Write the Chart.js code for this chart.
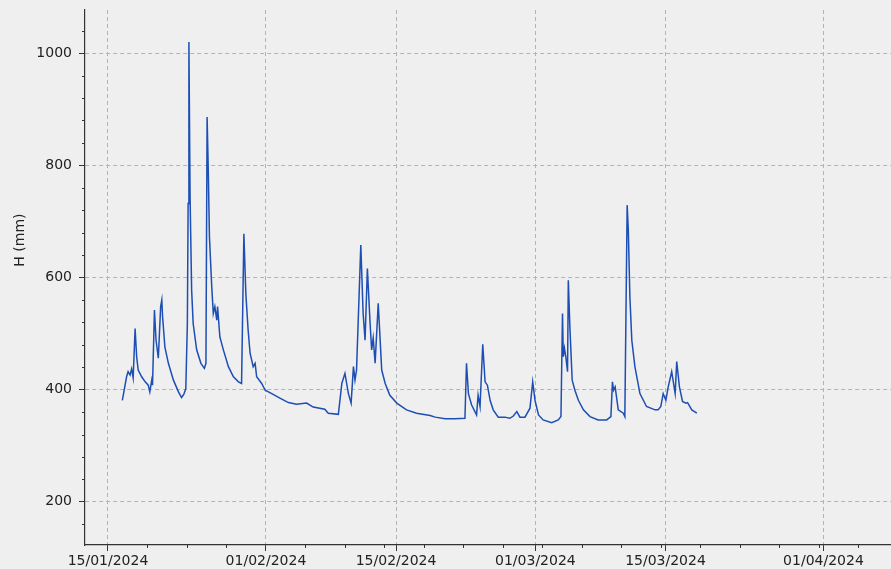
<!DOCTYPE html>
<html>
<head>
<meta charset="utf-8">
<script src="https://cdn.jsdelivr.net/npm/chart.js@4/dist/chart.umd.min.js"></script>
<style>
  html, body { margin: 0; padding: 0; background: #efefef; }
</style>
</head>
<body>
<canvas id="hauteurChart" width="891" height="569"></canvas>
<script>
// horodatage des mesures (UTC) et hauteur d'eau en mm
const times = [
  "2024-01-16T13:00", "2024-01-16T17:00", "2024-01-17T00:00", "2024-01-17T04:00", "2024-01-17T09:00",
  "2024-01-17T13:00", "2024-01-17T17:00", "2024-01-17T22:00", "2024-01-18T02:00", "2024-01-18T06:00",
  "2024-01-18T15:00", "2024-01-19T00:00", "2024-01-19T08:00", "2024-01-19T12:00", "2024-01-19T17:00",
  "2024-01-19T19:00", "2024-01-20T00:00", "2024-01-20T04:00", "2024-01-20T10:00", "2024-01-20T16:00",
  "2024-01-20T19:00", "2024-01-20T21:00", "2024-01-21T03:00", "2024-01-21T12:00", "2024-01-22T01:00",
  "2024-01-22T14:00", "2024-01-22T22:00", "2024-01-23T04:00", "2024-01-23T09:00", "2024-01-23T13:00",
  "2024-01-23T15:00", "2024-01-23T17:00", "2024-01-23T20:00", "2024-01-24T00:00", "2024-01-24T04:00",
  "2024-01-24T13:00", "2024-01-25T00:00", "2024-01-25T09:00", "2024-01-25T13:00", "2024-01-25T16:00",
  "2024-01-25T19:00", "2024-01-25T22:00", "2024-01-26T04:00", "2024-01-26T08:00", "2024-01-26T12:00",
  "2024-01-26T17:00", "2024-01-26T19:00", "2024-01-27T01:00", "2024-01-27T10:00", "2024-01-27T23:00",
  "2024-01-28T12:00", "2024-01-29T01:00", "2024-01-29T09:00", "2024-01-29T15:00", "2024-01-29T20:00",
  "2024-01-30T02:00", "2024-01-30T07:00", "2024-01-30T15:00", "2024-01-30T20:00", "2024-01-31T00:00",
  "2024-01-31T13:00", "2024-01-31T22:00", "2024-02-01T15:00", "2024-02-02T12:00", "2024-02-03T10:00",
  "2024-02-04T07:00", "2024-02-05T09:00", "2024-02-06T02:00", "2024-02-07T08:00", "2024-02-07T17:00",
  "2024-02-08T19:00", "2024-02-09T04:00", "2024-02-09T12:00", "2024-02-09T21:00", "2024-02-10T04:00",
  "2024-02-10T10:00", "2024-02-10T14:00", "2024-02-10T18:00", "2024-02-11T05:00", "2024-02-11T11:00",
  "2024-02-11T16:00", "2024-02-11T22:00", "2024-02-12T05:00", "2024-02-12T09:00", "2024-02-12T13:00",
  "2024-02-12T18:00", "2024-02-13T02:00", "2024-02-13T11:00", "2024-02-13T20:00", "2024-02-14T08:00",
  "2024-02-15T02:00", "2024-02-16T03:00", "2024-02-17T05:00", "2024-02-18T16:00", "2024-02-19T05:00",
  "2024-02-20T07:00", "2024-02-21T08:00", "2024-02-22T10:00", "2024-02-22T14:00", "2024-02-22T19:00",
  "2024-02-23T03:00", "2024-02-23T16:00", "2024-02-23T20:00", "2024-02-24T01:00", "2024-02-24T08:00",
  "2024-02-24T14:00", "2024-02-24T20:00", "2024-02-25T03:00", "2024-02-25T11:00", "2024-02-26T00:00",
  "2024-02-26T17:00", "2024-02-27T06:00", "2024-02-27T15:00", "2024-02-28T00:00", "2024-02-28T08:00",
  "2024-02-28T21:00", "2024-02-29T10:00", "2024-02-29T17:00", "2024-02-29T23:00", "2024-03-01T08:00",
  "2024-03-01T20:00", "2024-03-02T18:00", "2024-03-03T11:00", "2024-03-03T18:00", "2024-03-03T22:00",
  "2024-03-04T00:00", "2024-03-04T03:00", "2024-03-04T07:00", "2024-03-04T11:00", "2024-03-04T13:00",
  "2024-03-04T17:00", "2024-03-04T23:00", "2024-03-05T06:00", "2024-03-05T15:00", "2024-03-06T04:00",
  "2024-03-06T21:00", "2024-03-07T18:00", "2024-03-08T16:00", "2024-03-09T03:00", "2024-03-09T07:00",
  "2024-03-09T10:00", "2024-03-09T14:00", "2024-03-09T22:00", "2024-03-10T11:00", "2024-03-10T15:00",
  "2024-03-10T21:00", "2024-03-11T00:00", "2024-03-11T04:00", "2024-03-11T09:00", "2024-03-11T17:00",
  "2024-03-12T06:00", "2024-03-12T23:00", "2024-03-13T21:00", "2024-03-14T05:00", "2024-03-14T12:00",
  "2024-03-14T18:00", "2024-03-15T01:00", "2024-03-15T07:00", "2024-03-15T16:00", "2024-03-16T01:00",
  "2024-03-16T05:00", "2024-03-16T12:00", "2024-03-16T20:00", "2024-03-17T05:00", "2024-03-17T09:00",
  "2024-03-17T20:00", "2024-03-18T09:00"
];

const levels = [
  381, 396, 423, 432, 426,
  437, 421, 509, 459, 435,
  423, 414, 408, 396, 417,
  408, 542, 489, 456, 548,
  560, 530, 476, 447, 417,
  396, 386, 392, 402, 518,
  732, 1020, 744, 578, 518,
  471, 447, 438, 447, 886,
  791, 673, 583, 536, 548,
  524, 548, 494, 471, 441,
  423, 414, 411, 678, 572,
  506, 465, 441, 447, 423,
  411, 399, 393, 385, 377,
  374, 376, 369, 365, 358,
  356, 411, 429, 393, 376,
  441, 417, 435, 658, 536,
  488, 616, 518, 471, 492,
  447, 554, 435, 411, 390,
  376, 364, 358, 354, 351,
  348, 348, 349, 447, 393,
  373, 355, 390, 370, 481,
  414, 408, 381, 364, 351,
  351, 349, 353, 361, 351,
  351, 367, 414, 381, 355,
  346, 341, 346, 352, 536,
  459, 474, 456, 432, 595,
  512, 417, 399, 381, 364,
  352, 346, 346, 352, 414,
  399, 405, 364, 358, 352,
  729, 684, 566, 488, 441,
  393, 370, 364, 364, 370,
  393, 381, 405, 432, 393,
  450, 405, 379, 376, 377,
  364, 358
];

const tickDates = ["2024-01-15", "2024-02-01", "2024-02-15", "2024-03-01", "2024-03-15", "2024-04-01"];
const tickLabels = ["15/01/2024", "01/02/2024", "15/02/2024", "01/03/2024", "15/03/2024", "01/04/2024"];
const yTicks = [200, 400, 600, 800, 1000];
const xRange = ["2024-01-12T12:36", "2024-04-08T06:30"];
const yRange = [123, 1077];
const minorStepDays = 4.25;
const minorStepY = 40;

const DAY = 86400000;
const toMs = (s) => Date.parse((s.length === 10 ? s + "T00:00" : s) + ":00Z");

const points = times.map((t, i) => ({ x: toMs(t), y: levels[i] }));
const tickValues = tickDates.map(toMs);

const axisColor = "#333333";
const gridColor = "#b3b3b3";
const fontFamily = "'DejaVu Sans', sans-serif";

// petites graduations + titre de l'axe Y
const extrasPlugin = {
  id: "extras",
  afterDraw(chart) {
    const ctx = chart.ctx;
    const y = chart.scales.y;
    const x = chart.scales.x;
    ctx.save();
    ctx.strokeStyle = axisColor;
    ctx.lineWidth = 1;
    for (let v = 160; v <= 1040; v += minorStepY) {
      if (v % 200 === 0) continue;
      const py = Math.round(y.getPixelForValue(v)) + 0.5;
      ctx.beginPath();
      ctx.moveTo(x.left - 3, py);
      ctx.lineTo(x.left, py);
      ctx.stroke();
    }
    for (let t = tickValues[0]; t <= x.max; t += minorStepDays * DAY) {
      if (tickValues.some((m) => Math.abs(m - t) < DAY / 2)) continue;
      const px = Math.round(x.getPixelForValue(t)) + 0.5;
      ctx.beginPath();
      ctx.moveTo(px, y.bottom);
      ctx.lineTo(px, y.bottom + 3);
      ctx.stroke();
    }
    ctx.fillStyle = "#222";
    ctx.font = "14px " + fontFamily;
    ctx.textAlign = "center";
    ctx.textBaseline = "middle";
    ctx.translate(20, chart.chartArea.top + (chart.chartArea.bottom - chart.chartArea.top) * 0.43);
    ctx.rotate(-Math.PI / 2);
    ctx.fillText("H (mm)", 0, 0);
    ctx.restore();
  }
};

new Chart(document.getElementById("hauteurChart"), {
  type: "line",
  data: {
    datasets: [
      {
        label: "H (mm)",
        data: points,
        borderColor: "#1d4eb3",
        borderWidth: 1.5,
        pointRadius: 0,
        tension: 0,
        fill: false,
      },
    ],
  },
  options: {
    responsive: false,
    animation: false,
    layout: { padding: { top: 10, right: 0, bottom: 0, left: 0 } },
    plugins: {
      legend: { display: false },
      tooltip: { enabled: false },
    },
    scales: {
      x: {
        type: "linear",
        min: toMs(xRange[0]),
        max: toMs(xRange[1]),
        afterBuildTicks: (scale) => {
          scale.ticks = tickValues.map((v) => ({ value: v }));
        },
        afterFit: (scale) => {
          scale.height = 24;
          scale.paddingLeft = 0;
          scale.paddingRight = 0;
        },
        ticks: {
          autoSkip: false,
          maxRotation: 0,
          padding: 2,
          color: "#222",
          font: { family: fontFamily, size: 14 },
          callback: (value) => tickLabels[tickValues.indexOf(value)],
        },
        grid: {
          color: gridColor,
          tickColor: axisColor,
          tickLength: 6,
          tickBorderDash: [],
        },
        border: { color: axisColor, width: 1.2, dash: [4, 3] },
      },
      y: {
        min: yRange[0],
        max: yRange[1],
        afterBuildTicks: (scale) => {
          scale.ticks = yTicks.map((v) => ({ value: v }));
        },
        afterFit: (scale) => {
          scale.width = 85;
          scale.paddingTop = 0;
          scale.paddingBottom = 0;
        },
        ticks: {
          padding: 7,
          color: "#222",
          font: { family: fontFamily, size: 14 },
          callback: (value) => String(value),
        },
        grid: {
          color: gridColor,
          tickColor: axisColor,
          tickLength: 6,
          tickBorderDash: [],
        },
        border: { color: axisColor, width: 1.2, dash: [4, 3] },
      },
    },
  },
  plugins: [extrasPlugin],
});
</script>
</body>
</html>
